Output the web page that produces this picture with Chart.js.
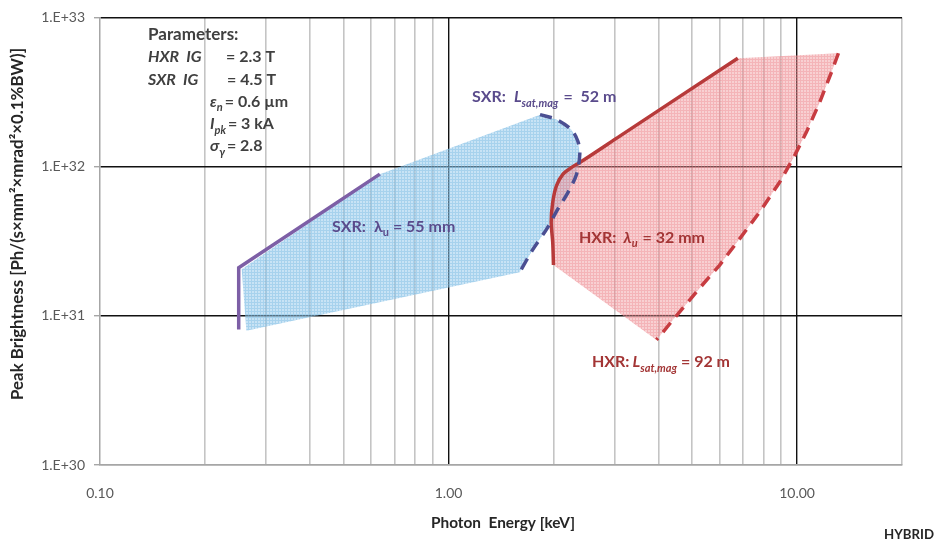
<!DOCTYPE html>
<html>
<head>
<meta charset="utf-8">
<script src="https://cdn.jsdelivr.net/npm/chart.js@4.4.1/dist/chart.umd.min.js"></script>
<style>
html,body{margin:0;padding:0;background:#fff}
#wrap{width:935px;height:542px}
</style>
</head>
<body>
<div id="wrap"><canvas id="chart" width="935" height="542"></canvas></div>
<script>

/* AXIS TICKS */

const xGridValues=[0.1,0.2,0.3,0.4,0.5,0.6,0.7,0.8,0.9,1,2,3,4,5,6,7,8,9,10,20]
const xLabelValues=[0.1,1,10]
const xMajorValues=[1,10]
const yTickValues=[1e30,1e31,1e32,1e33]

/* SXR: undulator period line (solid) */

const sxrUndE=[0.25,0.25,0.635]
const sxrUndB=[8.1e30,2.1e31,8.9e31]

/* SXR: saturation length line (dashed) */

const sxrSatE=[1.83,2.04,2.25,2.35,2.38,2.33,2.2,2.06,1.91,1.75,1.6]
const sxrSatB=[2.23e32,2.07e32,1.77e32,1.48e32,1.21e32,8.9e31,6.7e31,5.2e31,3.8e31,2.81e31,1.96e31]

/* SXR: shaded tuning range corners not on a line */

const sxrAreaE=[0.263,0.255,0.635]
const sxrAreaB=[7.94e30,2.05e31,8.9e31]

/* HXR: undulator period line (solid) */

const hxrUndE=[2.0,1.99,1.97,1.99,2.04,2.13,2.25,2.38,3.1,6.76]
const hxrUndB=[2.19e31,3.11e31,4.23e31,5.75e31,7.44e31,8.89e31,9.85e31,1.064e32,1.6e32,5.33e32]

/* HXR: saturation length line (dashed) */

const hxrSatE=[13.14,12.52,11.59,10.62,9.83,8.9,7.8,6.84,5.99,5.14,4.4,3.95]
const hxrSatB=[5.75e32,4.23e32,2.67e32,1.69e32,1.18e32,7.82e31,4.94e31,3.28e31,2.18e31,1.445e31,9.36e30,6.89e30]


function pts(e,b){
return e.map((v,i)=>({x:v,y:b[i]}))
}


const sxrAreaPts=pts(sxrAreaE.concat(sxrSatE),sxrAreaB.concat(sxrSatB))
const hxrAreaPts=pts(hxrUndE.concat(hxrSatE),hxrUndB.concat(hxrSatB))


/* TEXTURED FILLS (fine mesh like the original) */

function mesh(base,line){
const c=document.createElement("canvas")
c.width=3
c.height=3
const g=c.getContext("2d")
g.fillStyle=base
g.fillRect(0,0,3,3)
g.fillStyle=line
g.fillRect(0,2,3,1)
g.fillRect(2,0,1,2)
return g.createPattern(c,"repeat")
}

const blueFill=mesh("rgba(150,202,236,0.52)","rgba(120,185,228,0.4)")
const pinkFill=mesh("rgba(240,150,156,0.45)","rgba(236,130,138,0.36)")


/* TEXT OVERLAY */

/* parts are laid out one after another, g = extra gap before a part */

function runs(ctx,x,y,parts,color){
ctx.fillStyle=color
let cx=x
parts.forEach(p=>{
cx+=p.g||0
ctx.font=p.f
ctx.fillText(p.t,cx,y+(p.dy||0))
cx+=ctx.measureText(p.t).width
})
}

function fitText(ctx,txt,weight,width){
ctx.font=weight+" 20px Lato"
const s=20*width/ctx.measureText(txt).width
ctx.font=weight+" "+s.toFixed(2)+"px Lato"
}

const B16="bold 16px Lato"
const BI16="italic bold 16px Lato"
const B11="bold 11px Lato"
const BI11="italic bold 11px Lato"

const textPlugin={
id:"texts",
afterDraw(chart){

const ctx=chart.ctx
ctx.save()
ctx.textBaseline="alphabetic"
ctx.textAlign="left"

/* parameters box */

const pc="#404040"
runs(ctx,148,40,[{t:"Parameters:",f:"bold 17px Lato"}],pc)
runs(ctx,148,62,[{t:"HXR  IG",f:BI16}],pc)
runs(ctx,226,62,[{t:"= 2.3 T",f:B16}],pc)
runs(ctx,148,85,[{t:"SXR  IG",f:BI16}],pc)
runs(ctx,227,85,[{t:"= 4.5 T",f:B16}],pc)
runs(ctx,210,107,[{t:"\u03b5",f:BI16},{t:"n",f:BI11,dy:4},{t:"= 0.6 \u00b5m",f:B16,g:2}],pc)
runs(ctx,210,129,[{t:"I",f:BI16},{t:"pk",f:BI11,dy:5},{t:"= 3 kA",f:B16,g:2}],pc)
runs(ctx,210,151,[{t:"\u03c3",f:BI16},{t:"\u03b3",f:BI11,dy:5},{t:"= 2.8",f:B16,g:2}],pc)

/* curve labels */

const sc="#5a4b8c"
const hc="#a33535"
runs(ctx,472,102,[{t:"SXR:",f:B16},{t:"L",f:BI16,g:8},{t:"sat,mag",f:BI11,dy:5},{t:"=  52 m",f:B16,g:5}],sc)
runs(ctx,332,232,[{t:"SXR:",f:B16},{t:"\u03bb",f:B16,g:8},{t:"u",f:B11,dy:4},{t:"= 55 mm",f:B16,g:4}],sc)
runs(ctx,579,243,[{t:"HXR:",f:B16},{t:"\u03bb",f:BI16,g:7},{t:"u",f:BI11,dy:4},{t:"= 32 mm",f:B16,g:5}],hc)
runs(ctx,592,367,[{t:"HXR:",f:B16},{t:"L",f:BI16,g:3},{t:"sat,mag",f:BI11,dy:5},{t:"= 92 m",f:B16,g:4}],hc)

/* axis titles */

ctx.fillStyle="#262626"
ctx.textAlign="center"
const xt="Photon  Energy [keV]"
fitText(ctx,xt,"bold",144)
ctx.fillText(xt,503,528)

ctx.textAlign="right"
fitText(ctx,"HYBRID","bold",50)
ctx.fillText("HYBRID",934,539)

const yt="Peak Brightness [Ph/(s\u00d7mm\u00b2\u00d7mrad\u00b2\u00d70.1%BW)]"
ctx.save()
ctx.translate(23,224)
ctx.rotate(-Math.PI/2)
ctx.textAlign="center"
fitText(ctx,yt,"bold",352)
ctx.fillText(yt,0,0)
ctx.restore()

ctx.restore()
}
}


/* CHART */

const ctx=document.getElementById("chart").getContext("2d")

const chart=new Chart(ctx,{

type:"line",

data:{
datasets:[
{
data:pts(sxrUndE,sxrUndB),
borderColor:"#7d5fa6",
borderWidth:3.5,
pointRadius:0,
fill:false,
tension:0
},
{
data:pts(sxrSatE,sxrSatB),
borderColor:"#4b4f92",
borderWidth:3.5,
borderDash:[12,8],
pointRadius:0,
fill:false,
tension:0.3
},
{
data:pts(hxrUndE,hxrUndB),
borderColor:"#b73a3a",
borderWidth:3.5,
pointRadius:0,
fill:false,
tension:0.3
},
{
data:pts(hxrSatE,hxrSatB),
borderColor:"#c73c41",
borderWidth:3.5,
borderDash:[12,8],
pointRadius:0,
fill:false,
tension:0
},
{
data:hxrAreaPts,
indexAxis:"y",
borderWidth:0,
borderColor:"rgba(0,0,0,0)",
backgroundColor:pinkFill,
pointRadius:0,
fill:"shape",
tension:0
},
{
data:sxrAreaPts,
indexAxis:"y",
borderWidth:0,
borderColor:"rgba(0,0,0,0)",
backgroundColor:blueFill,
pointRadius:0,
fill:"shape",
tension:0
}
]
},

options:{
responsive:false,
animation:false,
layout:{padding:{top:14,right:33,left:0,bottom:0}},
plugins:{
legend:{display:false},
tooltip:{enabled:false}
},
scales:{
x:{
type:"logarithmic",
min:0.1,
max:20,
afterBuildTicks(s){s.ticks=xGridValues.map(v=>({value:v}))},
afterFit(s){s.height=77},
border:{color:"#a6a6a6",width:1.5},
grid:{
drawTicks:false,
color(c){
const v=c.tick&&c.tick.value
if(v===0.1)return "rgba(0,0,0,0)"
return xMajorValues.includes(v)?"#111":"#c4c4c4"
},
lineWidth(c){
const v=c.tick&&c.tick.value
return xMajorValues.includes(v)?1.4:1.6
}
},
ticks:{
autoSkip:false,
maxRotation:0,
padding:20,
color:"#595959",
font:{family:"Lato",size:14},
callback(v){return xLabelValues.includes(v)?v.toFixed(2):""}
}
},
y:{
type:"logarithmic",
min:1e30,
max:1e33,
afterBuildTicks(s){s.ticks=yTickValues.map(v=>({value:v}))},
afterFit(s){s.width=100},
border:{color:"#a6a6a6",width:1.5},
grid:{
drawTicks:true,
tickLength:6,
color(c){
const v=c.tick&&c.tick.value
return v===1e30?"#a6a6a6":"#111"
},
tickColor:"#a6a6a6",
lineWidth:1.4
},
ticks:{
padding:9,
color:"#595959",
font:{family:"Lato",size:14},
callback(v){return "1.E+"+Math.round(Math.log10(v))}
}
}
}
},

plugins:[textPlugin]

})

</script>
</body>
</html>
